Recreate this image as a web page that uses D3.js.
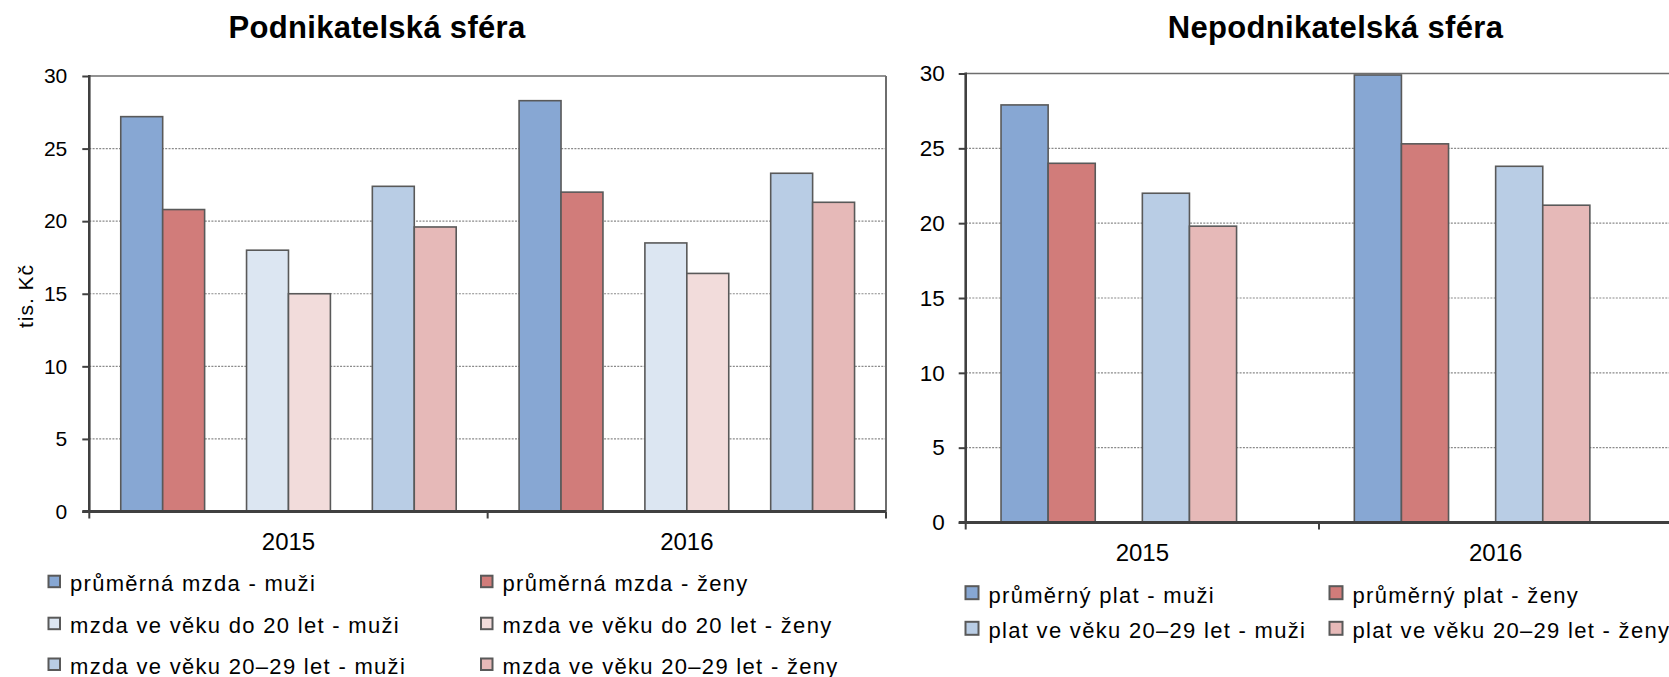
<!DOCTYPE html>
<html>
<head>
<meta charset="utf-8">
<script src="https://cdn.jsdelivr.net/npm/d3@7"></script>
<style>
  html, body { margin: 0; padding: 0; background: #fff; }
  svg { display: block; }
  text { font-family: "Liberation Sans", Arial, sans-serif; fill: #000; }
</style>
</head>
<body>
<svg id="chart" width="1669" height="677"></svg>
<script>
// ---------- DATA ----------
const categories = ["2015", "2016"];
const yTicks = [0, 5, 10, 15, 20, 25, 30];

const leftTitle = "Podnikatelská sféra";
const leftSeries = [
  "průměrná mzda - muži",
  "průměrná mzda - ženy",
  "mzda ve věku do 20 let - muži",
  "mzda ve věku do 20 let - ženy",
  "mzda ve věku 20–29 let - muži",
  "mzda ve věku 20–29 let - ženy"
];
const leftValues = [
  [27.2, 28.3],
  [20.8, 22.0],
  [18.0, 18.5],
  [15.0, 16.4],
  [22.4, 23.3],
  [19.6, 21.3]
];
const leftColors = ["#87A7D3", "#D17C7A", "#DCE6F2", "#F2DCDB", "#B9CDE5", "#E6B9B8"];
const leftSlots = ["s0", "s1", "gap1", "s2", "s3", "gap2", "s4", "s5"];

const rightTitle = "Nepodnikatelská sféra";
const rightSeries = [
  "průměrný plat - muži",
  "průměrný plat - ženy",
  "plat ve věku 20–29 let - muži",
  "plat ve věku 20–29 let - ženy"
];
const rightValues = [
  [27.9, 29.9],
  [24.0, 25.3],
  [22.0, 23.8],
  [19.8, 21.2]
];
const rightColors = ["#87A7D3", "#D17C7A", "#B9CDE5", "#E6B9B8"];
const rightSlots = ["s0", "s1", "gap1", "s2", "s3", "gap2"];

const yLabel = "tis. Kč";

// ---------- DRAW ----------
const svg = d3.select("#chart");
svg.append("rect").attr("width", 1669).attr("height", 677).attr("fill", "#fff");

function drawPanel(cfg) {
  const g = svg.append("g");
  const x = d3.scaleBand().domain(categories).range([cfg.x0, cfg.x1]).padding(0);
  const xi = d3.scaleBand().domain(cfg.slots).range([0, x.bandwidth()])
    .paddingInner(0).paddingOuter(0.75);
  const y = d3.scaleLinear().domain([0, 30]).range([cfg.yBottom, cfg.yTop]);

  // gridlines
  g.append("g").selectAll("line")
    .data(yTicks.filter(t => t > 0 && t < 30))
    .join("line")
    .attr("x1", cfg.x0).attr("x2", cfg.x1)
    .attr("y1", d => y(d)).attr("y2", d => y(d))
    .attr("stroke", "#8a8a8a").attr("stroke-width", 1.2)
    .attr("stroke-dasharray", "2,1.3");

  // top & right border
  g.append("line").attr("x1", cfg.x0).attr("x2", cfg.x1)
    .attr("y1", y(30)).attr("y2", y(30))
    .attr("stroke", "#6e6e6e").attr("stroke-width", 1.6);
  g.append("line").attr("x1", cfg.x1).attr("x2", cfg.x1)
    .attr("y1", y(30)).attr("y2", y(0))
    .attr("stroke", "#6e6e6e").attr("stroke-width", 2);

  // bars
  const bars = [];
  cfg.values.forEach((vals, si) => {
    vals.forEach((v, ci) => bars.push({ si, ci, v }));
  });
  g.append("g").selectAll("rect")
    .data(bars)
    .join("rect")
    .attr("x", d => x(categories[d.ci]) + xi("s" + d.si))
    .attr("width", xi.bandwidth())
    .attr("y", d => y(d.v))
    .attr("height", d => y(0) - y(d.v))
    .attr("fill", d => cfg.colors[d.si])
    .attr("stroke", "#595959").attr("stroke-width", 1.6);

  // y axis
  const ya = g.append("g").attr("transform", `translate(${cfg.x0},0)`)
    .call(d3.axisLeft(y).tickValues(yTicks).tickSize(7).tickPadding(cfg.tickPad).tickSizeOuter(0));
  ya.select(".domain").remove();
  ya.selectAll(".tick line").attr("stroke", "#404040").attr("stroke-width", 2);
  ya.selectAll(".tick text").style("font-size", cfg.tickFont + "px")
    .style("font-family", '"Liberation Sans", Arial, sans-serif').attr("fill", "#000");
  g.append("line").attr("x1", cfg.x0).attr("x2", cfg.x0)
    .attr("y1", y(30) - 1).attr("y2", y(0))
    .attr("stroke", "#404040").attr("stroke-width", 2.6);

  // x axis
  const xa = g.append("g").attr("transform", `translate(0,${cfg.yBottom})`)
    .call(d3.axisBottom(x).tickSize(0).tickPadding(cfg.catPad));
  xa.select(".domain").remove();
  xa.selectAll(".tick text").style("font-size", "24px")
    .style("font-family", '"Liberation Sans", Arial, sans-serif').attr("fill", "#000");
  const bounds = categories.map(c => x(c)).concat([x.range()[1]]);
  g.append("g").selectAll("line").data(bounds).join("line")
    .attr("x1", d => d).attr("x2", d => d)
    .attr("y1", cfg.yBottom).attr("y2", cfg.yBottom + 7)
    .attr("stroke", "#404040").attr("stroke-width", 2);
  g.append("line").attr("x1", cfg.x0 - 7).attr("x2", cfg.x1)
    .attr("y1", y(0)).attr("y2", y(0))
    .attr("stroke", "#404040").attr("stroke-width", 3);

  // title
  g.append("text").attr("x", cfg.titleX).attr("y", cfg.titleY)
    .attr("text-anchor", "middle")
    .style("font-size", "31px").style("font-weight", "bold")
    .style("letter-spacing", "0.3px")
    .text(cfg.title);

  // legend
  const leg = g.append("g");
  cfg.series.forEach((name, i) => {
    const col = i % 2, row = Math.floor(i / 2);
    const lx = cfg.legCols[col], ly = cfg.legRows[row];
    leg.append("rect")
      .attr("x", lx).attr("y", ly - cfg.legBox - 3.5)
      .attr("width", cfg.legBox).attr("height", cfg.legBox)
      .attr("fill", cfg.colors[i])
      .attr("stroke", "#595959").attr("stroke-width", 2);
    leg.append("text").attr("x", lx + cfg.legText).attr("y", ly)
      .style("font-size", "22px").style("letter-spacing", "1.3px")
      .text(name);
  });
}

drawPanel({
  title: leftTitle, titleX: 377, titleY: 37.5,
  series: leftSeries, values: leftValues, colors: leftColors, slots: leftSlots,
  x0: 89.3, x1: 886, yTop: 76, yBottom: 511.5,
  tickPad: 15, tickFont: 21, catPad: 21.5,
  legCols: [48.5, 481], legRows: [590.7, 632.7, 673.5], legBox: 11.5, legText: 21.5
});

drawPanel({
  title: rightTitle, titleX: 1335.5, titleY: 37.5,
  series: rightSeries, values: rightValues, colors: rightColors, slots: rightSlots,
  x0: 965.7, x1: 1672.3, yTop: 73.5, yBottom: 522.5,
  tickPad: 14, tickFont: 22.5, catPad: 21.2,
  legCols: [965.5, 1329.5], legRows: [602.7, 638.3], legBox: 13, legText: 23
});

// y-axis label (left chart)
svg.append("text")
  .attr("transform", "translate(33,296) rotate(-90)")
  .attr("text-anchor", "middle")
  .style("font-size", "21px").style("letter-spacing", "1px")
  .text(yLabel);
</script>
</body>
</html>
